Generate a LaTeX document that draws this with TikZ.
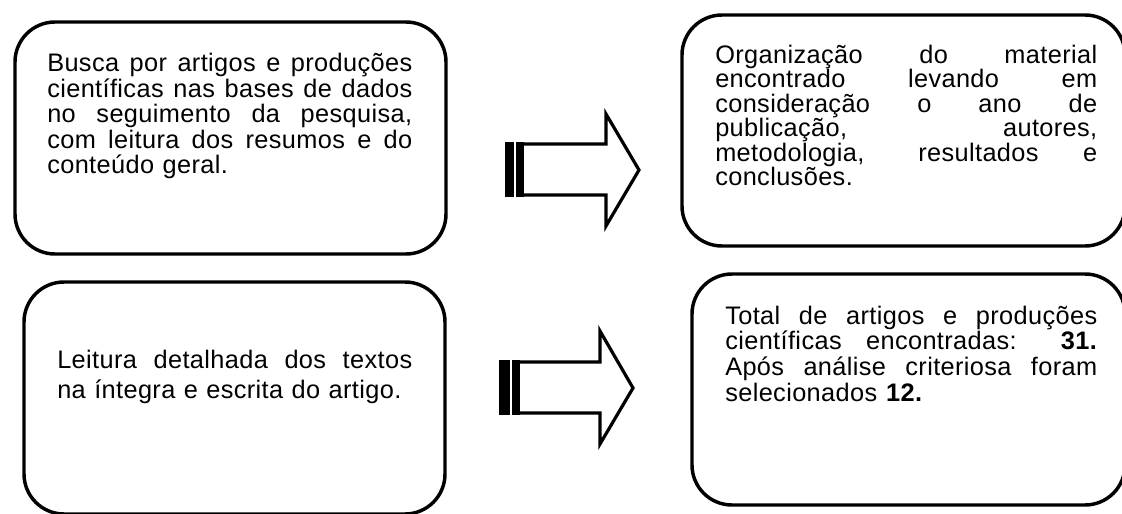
\documentclass[tikz,border=0pt]{standalone}
\usepackage{fontspec}
\setmainfont{Liberation Sans}[LetterSpace=1.5]
\newcommand\jline[2]{\makebox[#1][s]{\spaceskip=0pt\xspaceskip=0pt\relax #2}}
\begin{document}
\begin{tikzpicture}[x=0.75pt,y=-0.75pt,
  box/.style={draw=black,line width=2.6pt,rounded corners=30pt,inner sep=0pt,fill=white},
  txt/.style={anchor=base west,inner sep=0pt,font=\fontsize{19}{19.2}\selectfont},
  arrowline/.style={draw=black,line width=2.4pt,fill=white,line join=miter},
  bar/.style={fill=black}]
\clip (0,0) rectangle (1122,514);
\fill[white] (0,0) rectangle (1122,514);
% boxes
\node[box,minimum width=323.25pt,minimum height=174pt] (b1) at (230.5,138) {};
\node[box,minimum width=332.25pt,minimum height=173.25pt] (b2) at (903.5,130.5) {};
\node[box,minimum width=315.75pt,minimum height=174pt] (b3) at (234.5,398) {};
\node[box,minimum width=324.75pt,minimum height=173.25pt] (b4) at (908.5,389.5) {};
% texts
\node[txt,text width=273.75pt] (t1) at (47,71.5) {%
\jline{273.75pt}{Busca por artigos e produções}\\
\jline{273.75pt}{científicas nas bases de dados}\\
\jline{273.75pt}{no seguimento da pesquisa,}\\
\jline{273.75pt}{com leitura dos resumos e do}\\
conteúdo geral.};
\node[txt,text width=286.5pt,font=\fontsize{19}{18.45}\selectfont] (t2) at (715,63) {%
\jline{286.5pt}{Organização do material}\\
\jline{286.5pt}{encontrado levando em}\\
\jline{286.5pt}{consideração o ano de}\\
\jline{286.5pt}{publicação, autores,}\\
\jline{286.5pt}{metodologia, resultados e}\\
conclusões.};
\node[txt,text width=266.25pt,font=\fontsize{19}{22.5}\selectfont] (t3) at (57,368) {%
\jline{266.25pt}{Leitura detalhada dos textos}\\
na íntegra e escrita do artigo.};
\node[txt,text width=279pt,font=\fontsize{19}{19.3}\selectfont] (t4) at (725,324) {%
\jline{279pt}{Total de artigos e produções}\\
\jline{279pt}{científicas encontradas: \textbf{31.}}\\
\jline{279pt}{Após análise criteriosa foram}\\
selecionados \textbf{12.}};
% top arrow
\coordinate (a1) at (522,144);
\fill[bar] (505,142) rectangle (514,197);
\path[arrowline] (a1) -- (606,144) -- (606,114) -- (639,170) -- (606,226) -- (606,195) -- (522,195) -- cycle;
\fill[bar] (516,142) rectangle (524,197);
% bottom arrow
\coordinate (a2) at (516,362);
\fill[bar] (499,360) rectangle (510,415);
\path[arrowline] (a2) -- (600,362) -- (600,331) -- (633,388) -- (600,444) -- (600,413) -- (516,413) -- cycle;
\fill[bar] (512,360) rectangle (520,415);
\end{tikzpicture}
\end{document}
